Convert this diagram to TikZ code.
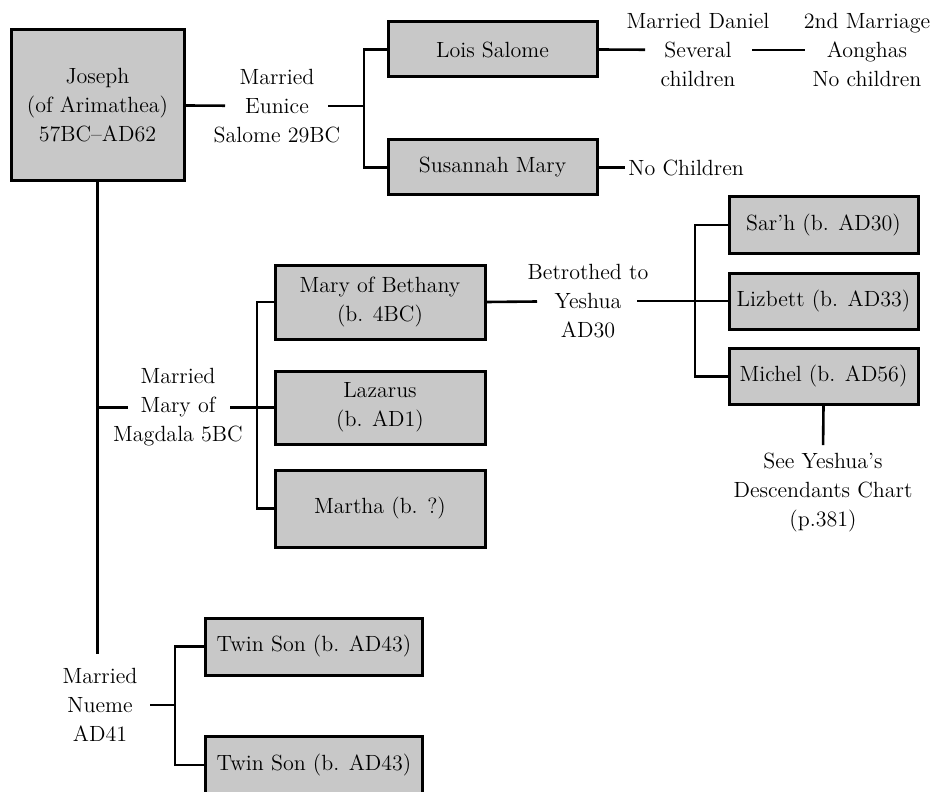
\documentclass[tikz,border=0pt]{standalone}
\usetikzlibrary{positioning}
\definecolor{boxgray}{RGB}{200,200,200}
\tikzset{
  person/.style={draw=black, fill=boxgray, line width=1.5pt, align=center, inner sep=0pt},
  note/.style={align=center, inner sep=0pt},
  link/.style={line width=1.3pt, line cap=butt}
}
\begin{document}
\begin{tikzpicture}[x=0.5pt, y=-0.5pt, font=\fontsize{11}{14.5}\selectfont]
  \useasboundingbox (0,0) rectangle (943,792);
  % people
  \node[person, minimum width=86.5pt, minimum height=75.5pt] (joseph) at (97.5,105.5) {Joseph\\(of Arimathea)\\57BC--AD62};
  \foreach \n/\y/\t in {lois/49.5/Lois Salome, susannah/167.5/Susannah Mary}
    \node[person, minimum width=104.5pt, minimum height=27.5pt] (\n) at (492.5,\y) {\t};
  \node[person, minimum width=105pt, minimum height=37pt] (bethany) at (380,302) {Mary of Bethany\\(b. 4BC)};
  \node[person, minimum width=105pt, minimum height=36.5pt] (lazarus) at (380,407.5) {Lazarus\\(b. AD1)};
  \node[person, minimum width=105pt, minimum height=38.5pt] (martha) at (380,508.5) {Martha (b. ?)};
  \foreach \n/\y/\t in {sarh/225/Sar'h (b. AD30), lizbett/301/Lizbett (b. AD33), michel/376.5/Michel (b. AD56)}
    \node[person, minimum width=94.5pt, minimum height=28pt] (\n) at (823.5,\y) {\t};
  \foreach \n/\y in {twin1/646.5, twin2/765}
    \node[person, minimum width=108.5pt, minimum height=28.5pt] (\n) at (314,\y) {Twin Son (b. AD43)};
  % marriages and notes
  \node[note] (eunice) at (277,106) {Married\\Eunice\\Salome 29BC};
  \node[note] (daniel) at (698,50) {Married Daniel\\Several\\children};
  \node[note] (aonghas) at (867,50) {2nd Marriage\\Aonghas\\No children};
  \node[note, anchor=west, inner sep=1.5pt] (nochild) at (625,167.5) {No Children};
  \node[note] (magdala) at (178,407.5) {Married\\Mary of\\Magdala 5BC};
  \node[note] (betrothed) at (588,301) {Betrothed to\\Yeshua\\AD30};
  \node[note] (seechart) at (823,493) {See Yeshua's\\Descendants Chart\\(p.381)};
  \node[note] (nueme) at (100,705) {Married\\Nueme\\AD41};
  % junctions
  \coordinate (jE) at (364,106);
  \coordinate (jM) at (257,407.5);
  \coordinate (jB) at (695,301);
  \coordinate (jT) at (175,705);
  % lines
  \draw[link, shorten >=26pt] (joseph.east) -- (eunice.center);
  \draw[link, shorten <=25.5pt] (eunice.center) -- (jE);
  \draw[link] (lois.west) -| (jE) |- (susannah.west);
  \draw[link, shorten >=26.5pt] (lois.east) -- (daniel.center);
  \draw[link, shorten <=27pt, shorten >=31pt] (daniel.center) -- (aonghas.center);
  \draw[link] (susannah.east) -- (nochild.west);
  \draw[link, shorten >=7pt] (joseph.south) -- (joseph.south |- nueme.north);
  \draw[link, shorten >=25pt] (joseph.south |- magdala) -- (magdala.center);
  \draw[link, shorten <=26pt] (magdala.center) -- (lazarus.west);
  \draw[link] (bethany.west) -| (jM) |- (martha.west);
  \draw[link, shorten >=25.5pt] (bethany.east) -- (betrothed.center);
  \draw[link, shorten <=24.5pt] (betrothed.center) -- (lizbett.west);
  \draw[link] (sarh.west) -| (jB) |- (michel.west);
  \draw[link, shorten >=4pt] (michel.south) -- (seechart.north);
  \draw[link, shorten <=25pt] (nueme.center) -- (jT);
  \draw[link] (twin1.west) -| (jT) |- (twin2.west);
\end{tikzpicture}
\end{document}
